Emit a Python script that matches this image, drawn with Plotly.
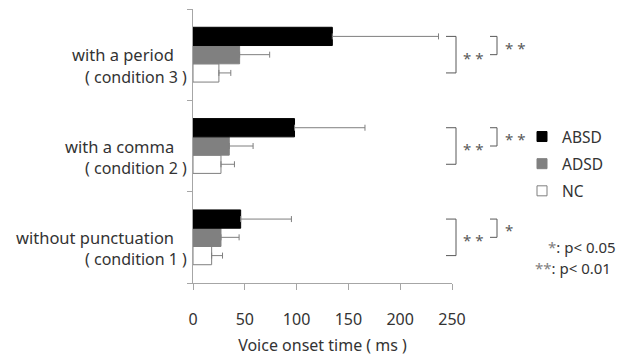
import plotly.graph_objects as go

# ---- data ----
cond_index = [0, 1, 2]  # condition 1 (bottom) .. condition 3 (top)
cond_names = ["without punctuation", "with a comma", "with a period"]
cond_labels = ["( condition 1 )", "( condition 2 )", "( condition 3 )"]

absd_mean = [46, 98, 134.5]
absd_sd = [49, 68, 102.5]
adsd_mean = [27, 35, 45]
adsd_sd = [17.5, 23, 29]
nc_mean = [18, 27, 25]
nc_sd = [10.5, 13, 11.5]

sig_absd_nc = ["**", "**", "**"]
sig_absd_adsd = ["*", "**", "**"]

x_ticks = [0, 50, 100, 150, 200, 250]
x_title = "Voice onset time ( ms )"
note_lines = ["*", "**"]
note_texts = [": p< 0.05", ": p< 0.01"]

FONT = "Noto Sans"
TXT = "#333333"
AX = "#a6a6a6"
ERR = "#7f7f7f"

fig = go.Figure()

series = [
    ("NC", nc_mean, nc_sd, "#ffffff", "#7f7f7f"),
    ("ADSD", adsd_mean, adsd_sd, "#808080", "#808080"),
    ("ABSD", absd_mean, absd_sd, "#000000", "#000000"),
]
for name, m, sd, fill, edge in series:
    fig.add_trace(go.Bar(
        y=cond_index, x=m, orientation="h", name=name, showlegend=False,
        marker=dict(color=fill, line=dict(color=edge, width=1)),
        error_x=dict(type="data", array=sd, arrayminus=[0] * len(sd), symmetric=False,
                     color=ERR, thickness=1, width=3),
    ))

# legend entries (ABSD, ADSD, NC top to bottom)
for i, (name, m, sd, fill, edge) in enumerate(reversed(series)):
    fig.add_trace(go.Scatter(
        x=[None], y=[None], mode="markers", name=name, legendgroup=name,
        marker=dict(symbol="square", size=10, color=fill, line=dict(color=edge, width=1)),
    ))

L, R, T, B = 193, 172, 9, 67
W, H = 624, 360
pw = W - L - R


def px2paper(px):
    return (px - L) / pw


def py2paper(py):
    return 1 - (py - T) / (H - T - B)


# significance brackets
off_black, off_grey, off_white = 0.2, 0.0, -0.2
for ci, s_big, s_small in zip(cond_index, sig_absd_nc, sig_absd_adsd):
    yb = ci + off_black
    yw = ci + off_white
    yg = ci + off_grey
    xa, xv = px2paper(446), px2paper(456)
    fig.add_shape(type="path", xref="paper", yref="y",
                  path=f"M {xa},{yb} L {xv},{yb} L {xv},{yw} L {xa},{yw}",
                  line=dict(color="#595959", width=1))
    xa2, xv2 = px2paper(490), px2paper(497)
    fig.add_shape(type="path", xref="paper", yref="y",
                  path=f"M {xa2},{yb} L {xv2},{yb} L {xv2},{yg} L {xa2},{yg}",
                  line=dict(color="#595959", width=1))
    fig.add_annotation(x=px2paper(461), y=yg, xref="paper", yref="y", xanchor="left",
                       yanchor="middle", yshift=-3, showarrow=False,
                       text=" ".join(s_big), font=dict(family=FONT, size=15, color="#595959"))
    fig.add_annotation(x=px2paper(503), y=ci + 0.1, xref="paper", yref="y", xanchor="left",
                       yanchor="middle", yshift=-2, showarrow=False,
                       text=" ".join(s_small), font=dict(family=FONT, size=15, color="#595959"))

# category labels
for ci, nm, lb in zip(cond_index, cond_names, cond_labels):
    fig.add_annotation(x=px2paper(176), y=ci, xref="paper", yref="y", xanchor="right",
                       yanchor="middle", yshift=0, showarrow=False, text=nm,
                       font=dict(family=FONT, size=16.5, color=TXT))
    fig.add_annotation(x=px2paper(189), y=ci, xref="paper", yref="y", xanchor="right",
                       yanchor="middle", yshift=-22, showarrow=False, text=lb,
                       font=dict(family=FONT, size=16, color=TXT))

# p-value note
for (st, tx), xr, yc in zip(zip(note_lines, note_texts), [618, 613], [256, 277]):
    fig.add_annotation(x=px2paper(xr), y=py2paper(yc), xref="paper", yref="paper",
                       xanchor="right", yanchor="middle", showarrow=False,
                       text=f"<span style='color:#7f7f7f'>{st}</span>{tx}",
                       font=dict(family=FONT, size=15, color=TXT))

fig.update_layout(
    width=W, height=H,
    margin=dict(l=L, r=R, t=T, b=B),
    paper_bgcolor="white", plot_bgcolor="white",
    barmode="group", bargap=0.4, bargroupgap=0,
    font=dict(family=FONT, color=TXT),
    legend=dict(x=px2paper(522), y=py2paper(124), xanchor="left", yanchor="top",
                traceorder="grouped", tracegroupgap=4,
                font=dict(family=FONT, size=15.5, color=TXT), bgcolor="rgba(0,0,0,0)"),
    xaxis=dict(range=[0, 250], tickvals=x_ticks, ticks="outside", ticklen=6,
               tickcolor=AX, showline=True, linecolor=AX, linewidth=1,
               showgrid=False, zeroline=False, ticklabelstandoff=16,
               tickfont=dict(family=FONT, size=16, color=TXT),
               title=dict(text=x_title, standoff=10, font=dict(family=FONT, size=16, color=TXT))),
    yaxis=dict(range=[-0.5, 2.5], tickvals=[-0.5, 0.5, 1.5, 2.5], ticktext=["", "", "", ""],
               ticks="outside", ticklen=5, tickcolor=AX, showline=True, linecolor=AX,
               linewidth=1, showgrid=False, zeroline=False),
)

fig.write_html("out.html", config={"displayModeBar": False},
               post_script="document.body.style.margin='0';")
